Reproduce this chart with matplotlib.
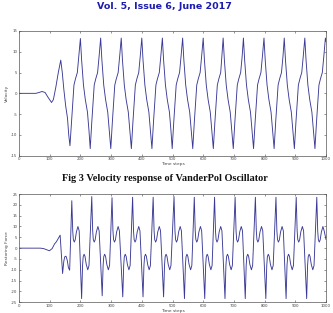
import matplotlib
matplotlib.use("Agg")
import matplotlib.pyplot as plt

# ---------------- data ----------------
header_text = "Vol. 5, Issue 6, June 2017"
caption_text = "Fig 3 Velocity response of VanderPol Oscillator"

xticks = [0, 100, 200, 300, 400, 500, 600, 700, 800, 900, 1000]
vel_yticks = [-15, -10, -5, 0, 5, 10, 15]
force_yticks = [-25, -20, -15, -10, -5, 0, 5, 10, 15, 20, 25]

# Velocity (top panel): time steps and values of the traced knots
vel_t = [0, 55, 65, 75, 85, 95, 106, 112, 120, 128, 136, 141, 146, 152, 158, 162,
         166, 171, 179, 184, 190, 195,
         200, 204, 210, 216, 223, 228,
         232, 237, 245, 250, 256, 261,
         266, 270, 276, 282, 289, 294,
         299, 304, 312, 317, 323, 328,
         333, 337, 343, 349, 356, 361,
         366, 371, 379, 384, 390, 395,
         400, 404, 410, 416, 423, 428,
         433, 438, 446, 451, 457, 462,
         467, 471, 477, 483, 490, 495,
         499, 504, 512, 517, 523, 528,
         533, 537, 543, 549, 556, 561,
         566, 571, 579, 584, 590, 595,
         600, 604, 610, 616, 623, 628,
         633, 638, 646, 651, 657, 661,
         665, 669, 675, 681, 688, 693,
         698, 703, 711, 716, 722, 727,
         731, 735, 741, 747, 754, 759,
         764, 769, 777, 782, 788, 793,
         798, 802, 808, 814, 821, 826,
         831, 836, 844, 849, 855, 860,
         864, 868, 874, 880, 887, 892,
         897, 902, 910, 915, 921, 926,
         931, 935, 941, 947, 954, 959,
         964, 969, 977, 982, 988, 993,
         998, 1000]
vel_v = [0, 0, 0.2, 0.45, 0.2, -1.0, -2.2, -1.5, 1.5, 5, 8, 5, 1, -3, -6, -10,
         -12.6, -7, 2, 3.5, 5, 9,
         13.2, 8, 2, -1.5, -4.5, -9,
         -13.3, -7, 2, 3.5, 5, 9,
         13.3, 8, 2, -1.5, -4.5, -9,
         -13.3, -7, 2, 3.5, 5, 9,
         13.3, 8, 2, -1.5, -4.5, -9,
         -13.3, -7, 2, 3.5, 5, 9,
         13.3, 8, 2, -1.5, -4.5, -9,
         -13.3, -7, 2, 3.5, 5, 9,
         13.3, 8, 2, -1.5, -4.5, -9,
         -13.3, -7, 2, 3.5, 5, 9,
         13.3, 8, 2, -1.5, -4.5, -9,
         -13.3, -7, 2, 3.5, 5, 9,
         13.3, 8, 2, -1.5, -4.5, -9,
         -13.3, -7, 2, 3.5, 5, 9,
         13.3, 8, 2, -1.5, -4.5, -9,
         -13.3, -7, 2, 3.5, 5, 9,
         13.3, 8, 2, -1.5, -4.5, -9,
         -13.3, -7, 2, 3.5, 5, 9,
         13.3, 8, 2, -1.5, -4.5, -9,
         -13.3, -7, 2, 3.5, 5, 9,
         13.3, 8, 2, -1.5, -4.5, -9,
         -13.3, -7, 2, 3.5, 5, 9,
         13.3, 8, 2, -1.5, -4.5, -9,
         -13.3, -7, 2, 3.5, 5, 9,
         13.3, 12.5]

# Restoring force (bottom panel)
force_t = [0, 70, 80, 90, 99, 108, 116, 122, 128, 134, 138, 142, 146, 149, 153, 157, 161, 165,
           172, 175, 177, 180, 183, 187, 192, 196,
           204, 207, 209, 212, 215, 219, 224, 228,
           237, 240, 242, 245, 248, 252, 257, 261,
           271, 274, 276, 279, 282, 286, 291, 295,
           303, 306, 308, 311, 314, 318, 323, 327,
           338, 341, 343, 346, 349, 353, 358, 362,
           370, 373, 375, 378, 381, 385, 390, 394,
           404, 407, 409, 412, 415, 419, 424, 428,
           437, 440, 442, 445, 448, 452, 457, 461,
           471, 474, 476, 479, 482, 486, 491, 495,
           505, 508, 510, 513, 516, 520, 525, 529,
           539, 542, 544, 547, 550, 554, 559, 563,
           571, 574, 576, 579, 582, 586, 591, 595,
           605, 608, 610, 613, 616, 620, 625, 629,
           637, 640, 642, 645, 648, 652, 657, 661,
           671, 674, 676, 679, 682, 686, 691, 695,
           704, 707, 709, 712, 715, 719, 724, 728,
           737, 740, 742, 745, 748, 752, 757, 761,
           770, 773, 775, 778, 781, 785, 790, 794,
           804, 807, 809, 812, 815, 819, 824, 828,
           837, 840, 842, 845, 848, 852, 857, 861,
           870, 873, 875, 878, 881, 885, 890, 894,
           903, 906, 908, 911, 914, 918, 923, 927,
           937, 940, 942, 945, 948, 952, 957, 961,
           970, 973, 975, 978, 981, 985, 990, 994,
           1000]
force_v = [0, 0, -0.2, -0.7, -1.2, -0.2, 2, 3, 4.5, 6, -3, -11.7, -6, -4, -3.7, -5.5, -9, -10.2,
           21.9, 8, 4, 2.8, 3.8, 7.5, 10, 8,
           -23.3, -8, -4, -2.8, -3.8, -7.5, -10, -8,
           23.8, 8, 4, 2.8, 3.8, 7.5, 10, 8,
           -22.0, -8, -4, -2.8, -3.8, -7.5, -10, -8,
           23.3, 8, 4, 2.8, 3.8, 7.5, 10, 8,
           -22.5, -8, -4, -2.8, -3.8, -7.5, -10, -8,
           23.5, 8, 4, 2.8, 3.8, 7.5, 10, 8,
           -22.5, -8, -4, -2.8, -3.8, -7.5, -10, -8,
           23.5, 8, 4, 2.8, 3.8, 7.5, 10, 8,
           -22.5, -8, -4, -2.8, -3.8, -7.5, -10, -8,
           23.8, 8, 4, 2.8, 3.8, 7.5, 10, 8,
           -23.3, -8, -4, -2.8, -3.8, -7.5, -10, -8,
           23.5, 8, 4, 2.8, 3.8, 7.5, 10, 8,
           -23.3, -8, -4, -2.8, -3.8, -7.5, -10, -8,
           23.5, 8, 4, 2.8, 3.8, 7.5, 10, 8,
           -23.3, -8, -4, -2.8, -3.8, -7.5, -10, -8,
           23.5, 8, 4, 2.8, 3.8, 7.5, 10, 8,
           -23.3, -8, -4, -2.8, -3.8, -7.5, -10, -8,
           23.5, 8, 4, 2.8, 3.8, 7.5, 10, 8,
           -23.3, -8, -4, -2.8, -3.8, -7.5, -10, -8,
           23.5, 8, 4, 2.8, 3.8, 7.5, 10, 8,
           -23.3, -8, -4, -2.8, -3.8, -7.5, -10, -8,
           23.5, 8, 4, 2.8, 3.8, 7.5, 10, 8,
           -23.3, -8, -4, -2.8, -3.8, -7.5, -10, -8,
           23.5, 8, 4, 2.8, 3.8, 7.5, 10, 8,
           4]

# ---------------- drawing ----------------
W, H = 333, 313
fig = plt.figure(figsize=(W / 100, H / 100), dpi=100)
fig.patch.set_facecolor("white")

line_color = "#3a3a96"
tick_fs = 2.8
label_fs = 3.2

def style(ax, yticks, ylim, ylabel):
    ax.set_xlim(0, 1000)
    ax.set_ylim(*ylim)
    ax.set_xticks(xticks)
    ax.set_yticks(yticks)
    ax.set_xticklabels([str(x) for x in xticks])
    ax.set_yticklabels([str(y) for y in yticks])
    ax.tick_params(direction="in", length=1.5, width=0.4, labelsize=tick_fs,
                   colors="#444444", pad=1.2, top=True, right=True)
    for s in ax.spines.values():
        s.set_linewidth(0.5)
        s.set_color("#555555")
    ax.set_xlabel("Time steps", fontsize=label_fs, color="#444444", labelpad=0.8)
    ax.set_ylabel(ylabel, fontsize=label_fs, color="#444444", labelpad=1.5)

ax1 = fig.add_axes([19 / W, 1 - 155.7 / H, 307 / W, (155.7 - 31) / H])
ax1.plot(vel_t, vel_v, color=line_color, lw=0.65)
style(ax1, vel_yticks, (-15, 15), "Velocity")

ax2 = fig.add_axes([19 / W, 1 - 302.3 / H, 307 / W, (302.3 - 194) / H])
ax2.plot(force_t, force_v, color=line_color, lw=0.65)
style(ax2, force_yticks, (-25, 25), "Restoring Force")

fig.text(164 / W, 1 - 6.5 / H, header_text, ha="center", va="center",
         fontsize=6.8, fontweight="bold", color="#1c1cb0", family="DejaVu Sans")
fig.text(165 / W, 1 - 178.5 / H, caption_text, ha="center", va="center",
         fontsize=7.4, fontweight="bold", color="#111111", family="Liberation Serif")

fig.savefig("out.png", dpi=100)
